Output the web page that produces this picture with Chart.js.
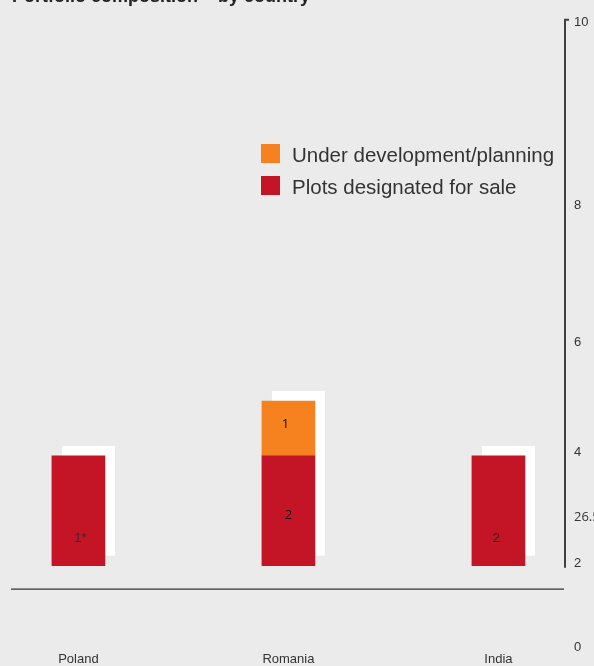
<!DOCTYPE html>
<html>
<head>
<meta charset="utf-8">
<script src="https://cdn.jsdelivr.net/npm/chart.js@4"></script>
<style>
  body { margin: 0; background: #ebebeb; }
  #wrap { position: relative; width: 594px; height: 666px; overflow: hidden; }
  #title { position: absolute; left: 12px; top: -11px; font: bold 18px "Liberation Sans", Arial, sans-serif; line-height: 15px; color: #222; white-space: nowrap; }
</style>
</head>
<body>
<div id="wrap">
  <div id="title">Portfolio composition – by country</div>
  <canvas id="portfolioChart"></canvas>
</div>
<script>
const countries = ['Poland', 'Romania', 'India'];
const plotsForSale = [2, 2, 2];
const underDevelopment = [0, 1, 0];
const plotsText = ['1*', '2', '2'];
const devText = ['', '1', ''];
const axisStart = 2;
// right-hand tick labels and where they sit on the value axis
const tickLabels = ['10', '8', '6', '4', '26.5', '2', '0'];
const tickValues = [11.9, 8.57, 6.07, 4.07, 2.88, 2.04, 0.51];

const RED = '#c41526';
const ORANGE = '#f5821f';

const shadowPlugin = {
    id: 'shadows',
    beforeDatasetsDraw(chart) {
        const ctx = chart.ctx;
        ctx.save();
        ctx.fillStyle = '#ffffff';
        countries.forEach((c, i) => {
            let top = Infinity, base = null, x = null, w = null;
            chart.data.datasets.forEach((ds, d) => {
                if (ds.data[i].y === null) return;
                const el = chart.getDatasetMeta(d).data[i];
                top = Math.min(top, el.y);
                base = base === null ? el.base : Math.max(base, el.base);
                x = el.x; w = el.width;
            });
            if (x === null) return;
            ctx.fillRect(x - w / 2 + 10, top - 10, w, base - top);
        });
        ctx.restore();
    }
};

const extrasPlugin = {
    id: 'extras',
    afterDraw(chart) {
        const ctx = chart.ctx;
        const area = chart.chartArea;
        const y = chart.scales.y;
        const basePx = y.getPixelForValue(axisStart);
        ctx.save();

        // value axis line with small cap at the top
        ctx.strokeStyle = '#404040';
        ctx.lineWidth = 2;
        ctx.beginPath();
        ctx.moveTo(area.right + 4, area.top + 3);
        ctx.lineTo(area.right, area.top + 3);
        ctx.lineTo(area.right, basePx + 2);
        ctx.stroke();

        // horizontal rule under the bars
        ctx.strokeStyle = '#333';
        ctx.lineWidth = 1.2;
        ctx.beginPath();
        ctx.moveTo(area.left, basePx + 23.5);
        ctx.lineTo(area.right - 1, basePx + 23.5);
        ctx.stroke();

        // bar labels
        ctx.textAlign = 'center';
        ctx.textBaseline = 'middle';
        const red = chart.getDatasetMeta(0).data;
        const orange = chart.getDatasetMeta(1).data;
        countries.forEach((c, i) => {
            const el = red[i];
            if (i === 1) {
                ctx.font = '13px "Open Sans", sans-serif';
                ctx.fillStyle = '#111';
                ctx.fillText(plotsText[i], el.x, (el.y + el.base) / 2 + 5);
                const o = orange[i];
                if (devText[i]) ctx.fillText(devText[i], o.x - 3, (o.y + o.base) / 2 - 4);
            } else {
                ctx.font = '13px "Liberation Sans Narrow", "Arial Narrow", sans-serif';
                ctx.fillStyle = i === 0 ? '#3a2a2a' : '#4a1414';
                ctx.fillText(plotsText[i], el.x + (i === 0 ? 2 : -2), el.base - (el.base - el.y) / 4);
            }
        });

        // legend
        const items = [
            { label: chart.data.datasets[1].label, color: chart.data.datasets[1].backgroundColor },
            { label: chart.data.datasets[0].label, color: chart.data.datasets[0].backgroundColor }
        ];
        ctx.textAlign = 'left';
        ctx.font = '20.5px "Liberation Sans", Arial, sans-serif';
        items.forEach((it, k) => {
            const ly = 144 + k * 32;
            ctx.fillStyle = it.color;
            ctx.fillRect(261, ly, 19, 19);
            ctx.fillStyle = '#333';
            ctx.fillText(it.label, 292, ly + 12);
        });

        ctx.restore();
    }
};

const ctx = document.getElementById('portfolioChart').getContext('2d');

new Chart(ctx, {
    type: 'bar',
    data: {
        datasets: [{
            label: 'Plots designated for sale',
            data: countries.map((c, i) => ({ x: i, y: [axisStart, axisStart + plotsForSale[i]] })),
            backgroundColor: RED,
            barThickness: 53,
            grouped: false
        }, {
            label: 'Under development/planning',
            data: countries.map((c, i) => ({
                x: i,
                y: underDevelopment[i] ? [axisStart + plotsForSale[i], axisStart + plotsForSale[i] + underDevelopment[i]] : null
            })),
            backgroundColor: ORANGE,
            barThickness: 53,
            grouped: false
        }]
    },
    options: {
        responsive: true,
        maintainAspectRatio: false,
        animation: false,
        layout: { padding: { left: 11, top: 10, right: 0, bottom: 0 } },
        plugins: {
            legend: { display: false },
            tooltip: { enabled: false }
        },
        scales: {
            x: {
                type: 'linear',
                offset: false,
                min: -0.321,
                max: 2.317,
                grid: { display: false, drawTicks: false, offset: false },
                border: { display: false },
                afterBuildTicks: scale => { scale.ticks = countries.map((c, i) => ({ value: i })); },
                afterFit: scale => { scale.height = 18; },
                ticks: {
                    autoSkip: false,
                    maxRotation: 0,
                    padding: 4,
                    color: '#333',
                    font: { family: '"Liberation Sans Narrow", "Arial Narrow", sans-serif', size: 13 },
                    callback: (v, i) => countries[i]
                }
            },
            y: {
                position: 'right',
                min: 0.5,
                max: 12,
                grid: { display: false, drawTicks: false },
                border: { display: false },
                afterBuildTicks: scale => { scale.ticks = tickValues.map(v => ({ value: v })); },
                afterFit: scale => { scale.width = 29; },
                ticks: {
                    autoSkip: false,
                    padding: 9,
                    color: '#333',
                    font: c => tickLabels[c.index] === '26.5'
                        ? { family: '"Open Sans", sans-serif', size: 13 }
                        : { family: '"Liberation Sans Narrow", "Arial Narrow", sans-serif', size: 13 },
                    callback: (v, i) => tickLabels[i]
                }
            }
        }
    },
    plugins: [shadowPlugin, extrasPlugin]
});
</script>
</body>
</html>
